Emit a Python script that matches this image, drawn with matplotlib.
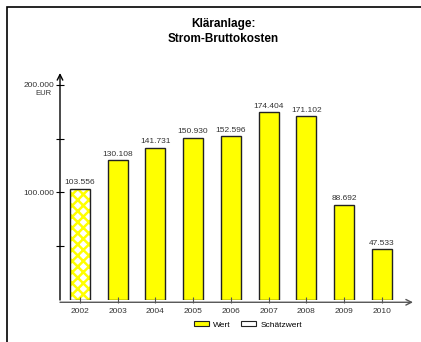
import matplotlib
matplotlib.use("Agg")
from matplotlib import pyplot as plt
from matplotlib.patches import Rectangle, Patch
import numpy as np

years = ["2002", "2003", "2004", "2005", "2006", "2007", "2008", "2009", "2010"]
costs = [103556, 130108, 141731, 150930, 152596, 174404, 171102, 88692, 47533]
estimated = [True, False, False, False, False, False, False, False, False]

plt.rcParams['font.family'] = ['Liberation Sans', 'DejaVu Sans']
plt.rcParams['hatch.linewidth'] = 1.8

fig = plt.figure(figsize=(4.21, 3.42), dpi=100)
# outer frame (open on the right and bottom, like a cropped page)
fig.patches.append(Rectangle((7 / 421, -0.1), 1.2, (342 - 7) / 342 + 0.1,
                             transform=fig.transFigure, fill=False,
                             edgecolor='black', linewidth=1.2))

ax = fig.add_axes([60 / 421, 42 / 342, 353 / 421, 227 / 342])
x = np.arange(len(years))
width = 0.53

for xi, v, est in zip(x, costs, estimated):
    if est:
        ax.bar(xi, v, width=width, color='white', edgecolor='#ffff00',
               hatch='xxx', linewidth=0)
        ax.bar(xi, v, width=width, fill=False, edgecolor='#222222', linewidth=1)
    else:
        ax.bar(xi, v, width=width, color='#ffff00', edgecolor='#222222', linewidth=1)

for xi, v in zip(x, costs):
    ax.text(xi, v + 2000, f"{v:,}".replace(",", "."), ha='center', va='bottom',
            fontsize=6, color='#333333')

ax.set_xlim(-0.53, 8.83)
ax.set_ylim(0, 211000)

for s in ax.spines.values():
    s.set_visible(False)

# axes with arrow heads
ax.annotate('', xy=(0, 1), xytext=(0, 0), xycoords='axes fraction',
            arrowprops=dict(arrowstyle='->', color='black', lw=1, shrinkA=0, shrinkB=0))
ax.annotate('', xy=(1, -0.01), xytext=(0, -0.01), xycoords='axes fraction',
            arrowprops=dict(arrowstyle='->', color='#555555', lw=1, shrinkA=0, shrinkB=0))

ax.set_yticks([100000, 200000])
ax.set_yticklabels(["100.000", "200.000"])
ax.set_yticks([50000, 150000], minor=True)
ax.tick_params(axis='y', which='both', direction='inout', length=6, width=0.8,
               labelsize=6, labelcolor='#333333', pad=1)
ax.text(-0.048, 192000, "EUR", transform=ax.get_yaxis_transform(), ha='center',
        va='center', fontsize=5.5, color='#333333')

ax.set_xticks(x)
ax.set_xticklabels(years)
ax.tick_params(axis='x', direction='inout', length=5, width=0.8, color='#555555',
               labelsize=6, labelcolor='#333333', pad=3)

fig.text(223 / 421, 1 - 24 / 342, "Kläranlage:", ha='center', va='center',
         fontsize=8.5, fontweight='bold')
fig.text(223 / 421, 1 - 39 / 342, "Strom-Bruttokosten", ha='center', va='center',
         fontsize=8.5, fontweight='bold')

handles = [Patch(facecolor='#ffff00', edgecolor='#222222', linewidth=0.8),
           Patch(facecolor='white', edgecolor='#222222', linewidth=0.8)]
fig.legend(handles, ["Wert", "Schätzwert"], loc='center', ncol=2,
           bbox_to_anchor=(248 / 421, 1 - 325 / 342), frameon=False,
           fontsize=6, handlelength=1.8, handleheight=0.5,
           columnspacing=1.2, handletextpad=0.5)

fig.savefig("out.png", dpi=100)
